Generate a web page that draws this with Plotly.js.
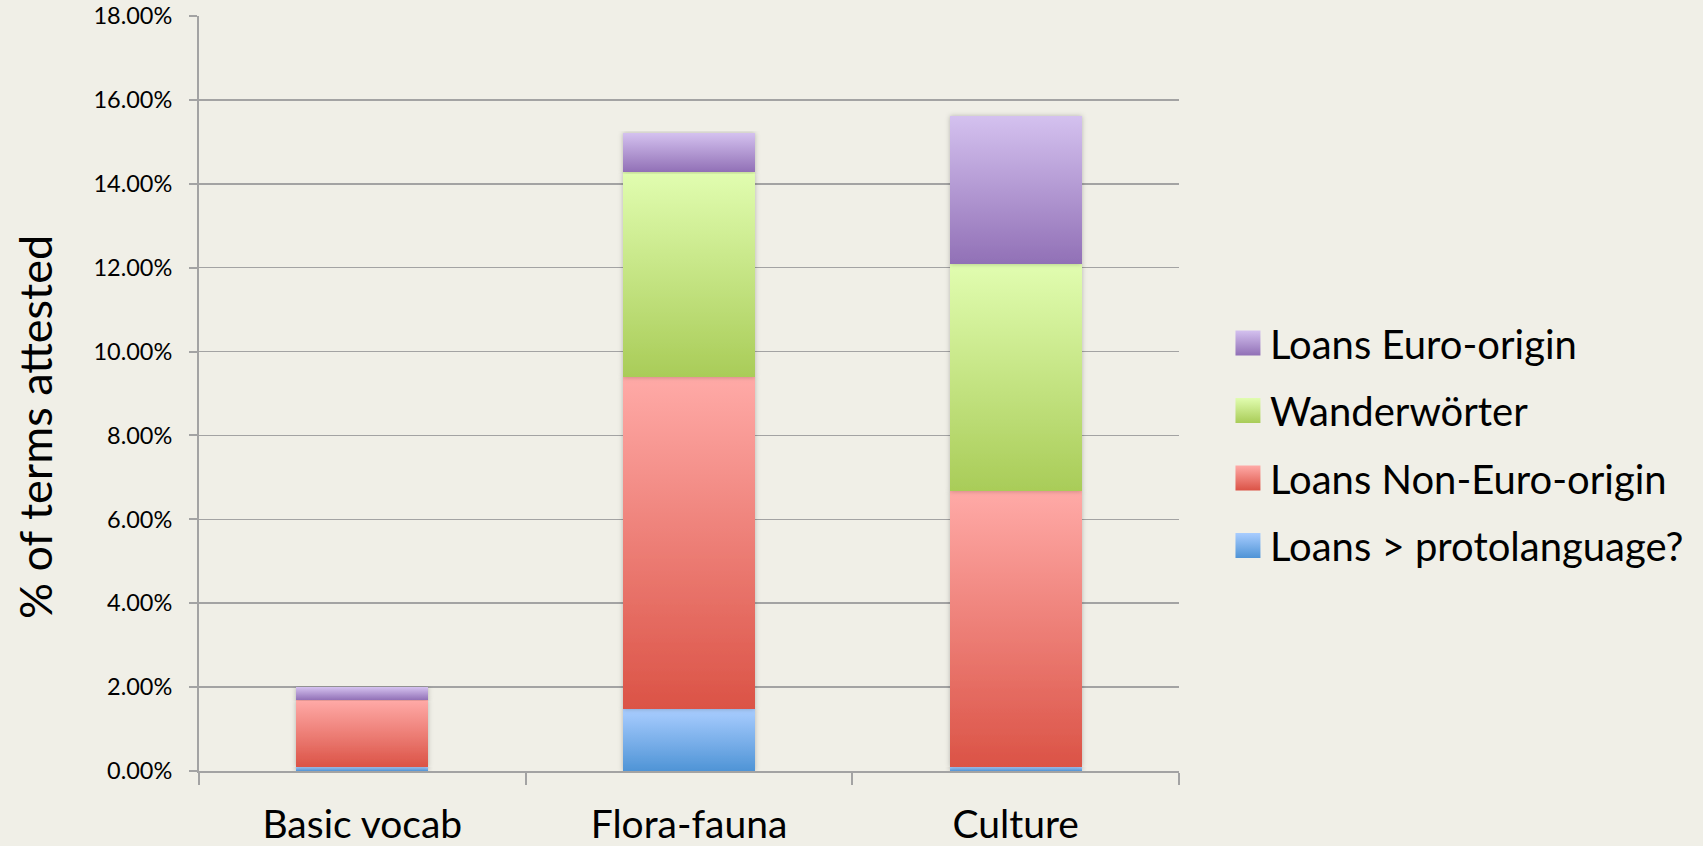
<!DOCTYPE html>
<html>
<head>
<meta charset="utf-8">
<script src="https://cdn.plot.ly/plotly-3.0.1.min.js"></script>
<style>
html,body{margin:0;padding:0;background:#f0efe7;}
#chart{width:1703px;height:846px;}
</style>
</head>
<body>
<div id="chart"></div>
<script>
// ---- data (percent of terms attested) ----
const categories = ['Basic vocab', 'Flora-fauna', 'Culture'];
const seriesNames = ['Loans > protolanguage?', 'Loans Non-Euro-origin', 'Wanderwörter', 'Loans Euro-origin'];
const protoLoans    = [0.09, 1.47, 0.09];
const nonEuroLoans  = [1.60, 7.92, 6.58];
const wanderwoerter = [0.00, 4.89, 5.41];
const euroLoans     = [0.31, 0.93, 3.53];
const yTickVals = [0, 2, 4, 6, 8, 10, 12, 14, 16, 18];
const yTickText = ['0.00%', '2.00%', '4.00%', '6.00%', '8.00%', '10.00%', '12.00%', '14.00%', '16.00%', '18.00%'];
const yAxisTitle = '% of terms attested';

const seriesValues = [protoLoans, nonEuroLoans, wanderwoerter, euroLoans];
// gradient colours (top, bottom) per series
const gradTop    = ['#a9cdff', '#ffaaa7', '#e1fdb0', '#d4c1ef'];
const gradBottom = ['#4f94d6', '#db5346', '#a9cc58', '#9170b6'];
const midColor   = ['#7cb0ea', '#ee7f77', '#c6e385', '#b299d2'];

const FONT = 'Lato, "Open Sans", sans-serif';

const traces = seriesValues.map((vals, i) => ({
  type: 'bar',
  name: seriesNames[i],
  x: categories,
  y: vals,
  legendgroup: 'g' + i,
  legendrank: 1000 - i,
  marker: {color: midColor[i], line: {width: 0}},
  hoverinfo: 'name+y'
}));

const layout = {
  width: 1703, height: 846,
  paper_bgcolor: '#f0efe7',
  plot_bgcolor: '#f0efe7',
  barmode: 'stack',
  bargap: 0.596,
  margin: {l: 199, r: 524, t: 16, b: 75, autoexpand: false},
  font: {family: FONT, color: '#000'},
  showlegend: true,
  legend: {
    x: 1.052, xanchor: 'left',
    y: 0.61, yanchor: 'top',
    traceorder: 'grouped',
    tracegroupgap: 12.5,
    font: {family: FONT, size: 40, color: '#000'},
    bgcolor: 'rgba(0,0,0,0)'
  },
  xaxis: {
    type: 'category',
    showline: true, linecolor: '#a3a3a3', linewidth: 2,
    ticks: 'outside', tickson: 'boundaries', ticklen: 12, tickwidth: 2, tickcolor: '#a3a3a3',
    tickfont: {family: FONT, size: 39, color: '#000'},
    ticklabelstandoff: 18,
    showgrid: false, zeroline: false,
    automargin: false
  },
  yaxis: {
    range: [0, 18],
    tickmode: 'array',
    tickvals: yTickVals,
    ticktext: yTickText,
    ticks: 'outside', ticklen: 8, tickwidth: 2, tickcolor: '#a3a3a3',
    tickfont: {family: FONT, size: 23.5, color: '#000'},
    ticklabelstandoff: 12,
    showline: true, linecolor: '#a3a3a3', linewidth: 2,
    showgrid: true, gridcolor: '#a3a3a3', gridwidth: 1.5,
    zeroline: false,
    automargin: false
  },
  annotations: [{
    text: yAxisTitle,
    xref: 'paper', yref: 'paper',
    x: -0.168, y: 0.456,
    xanchor: 'center', yanchor: 'middle',
    textangle: -90,
    showarrow: false,
    font: {family: FONT, size: 45, color: '#000'}
  }]
};

Plotly.newPlot('chart', traces, layout, {displayModeBar: false, staticPlot: true}).then(gd => {
  const svg = gd.querySelector('svg.main-svg');
  const NS = 'http://www.w3.org/2000/svg';
  const defs = document.createElementNS(NS, 'defs');
  for (let i = 0; i < gradTop.length; i++) {
    const lg = document.createElementNS(NS, 'linearGradient');
    lg.setAttribute('id', 'grad' + i);
    lg.setAttribute('x1', '0'); lg.setAttribute('y1', '0');
    lg.setAttribute('x2', '0'); lg.setAttribute('y2', '1');
    const s1 = document.createElementNS(NS, 'stop');
    s1.setAttribute('offset', '0'); s1.setAttribute('stop-color', gradTop[i]);
    const s2 = document.createElementNS(NS, 'stop');
    s2.setAttribute('offset', '1'); s2.setAttribute('stop-color', gradBottom[i]);
    lg.appendChild(s1); lg.appendChild(s2);
    defs.appendChild(lg);
  }
  const f = document.createElementNS(NS, 'filter');
  f.setAttribute('id', 'barshadow');
  f.setAttribute('x', '-20%'); f.setAttribute('y', '-5%');
  f.setAttribute('width', '140%'); f.setAttribute('height', '110%');
  const ds = document.createElementNS(NS, 'feDropShadow');
  ds.setAttribute('dx', '0'); ds.setAttribute('dy', '0');
  ds.setAttribute('stdDeviation', '2.5');
  ds.setAttribute('flood-color', '#000'); ds.setAttribute('flood-opacity', '0.25');
  f.appendChild(ds);
  defs.appendChild(f);
  svg.insertBefore(defs, svg.firstChild);

  const barTraces = gd.querySelectorAll('.barlayer .trace');
  barTraces.forEach((tr, idx) => {
    const d = tr.__data__;
    const ti = (d && d[0] && d[0].trace) ? d[0].trace.index : idx;
    tr.querySelectorAll('path').forEach(p => {
      p.style.fill = 'url(#grad' + ti + ')';
      p.setAttribute('filter', 'url(#barshadow)');
    });
  });
  gd.querySelectorAll('.legend .traces').forEach(g => {
    const d = g.__data__;
    const ti = d[0].trace.index;
    g.querySelectorAll('.legendpoints path').forEach(p => {
      p.style.fill = 'url(#grad' + ti + ')';
      p.setAttribute('transform', 'translate(18,0) scale(2.08)');
    });
  });
});
</script>
</body>
</html>
